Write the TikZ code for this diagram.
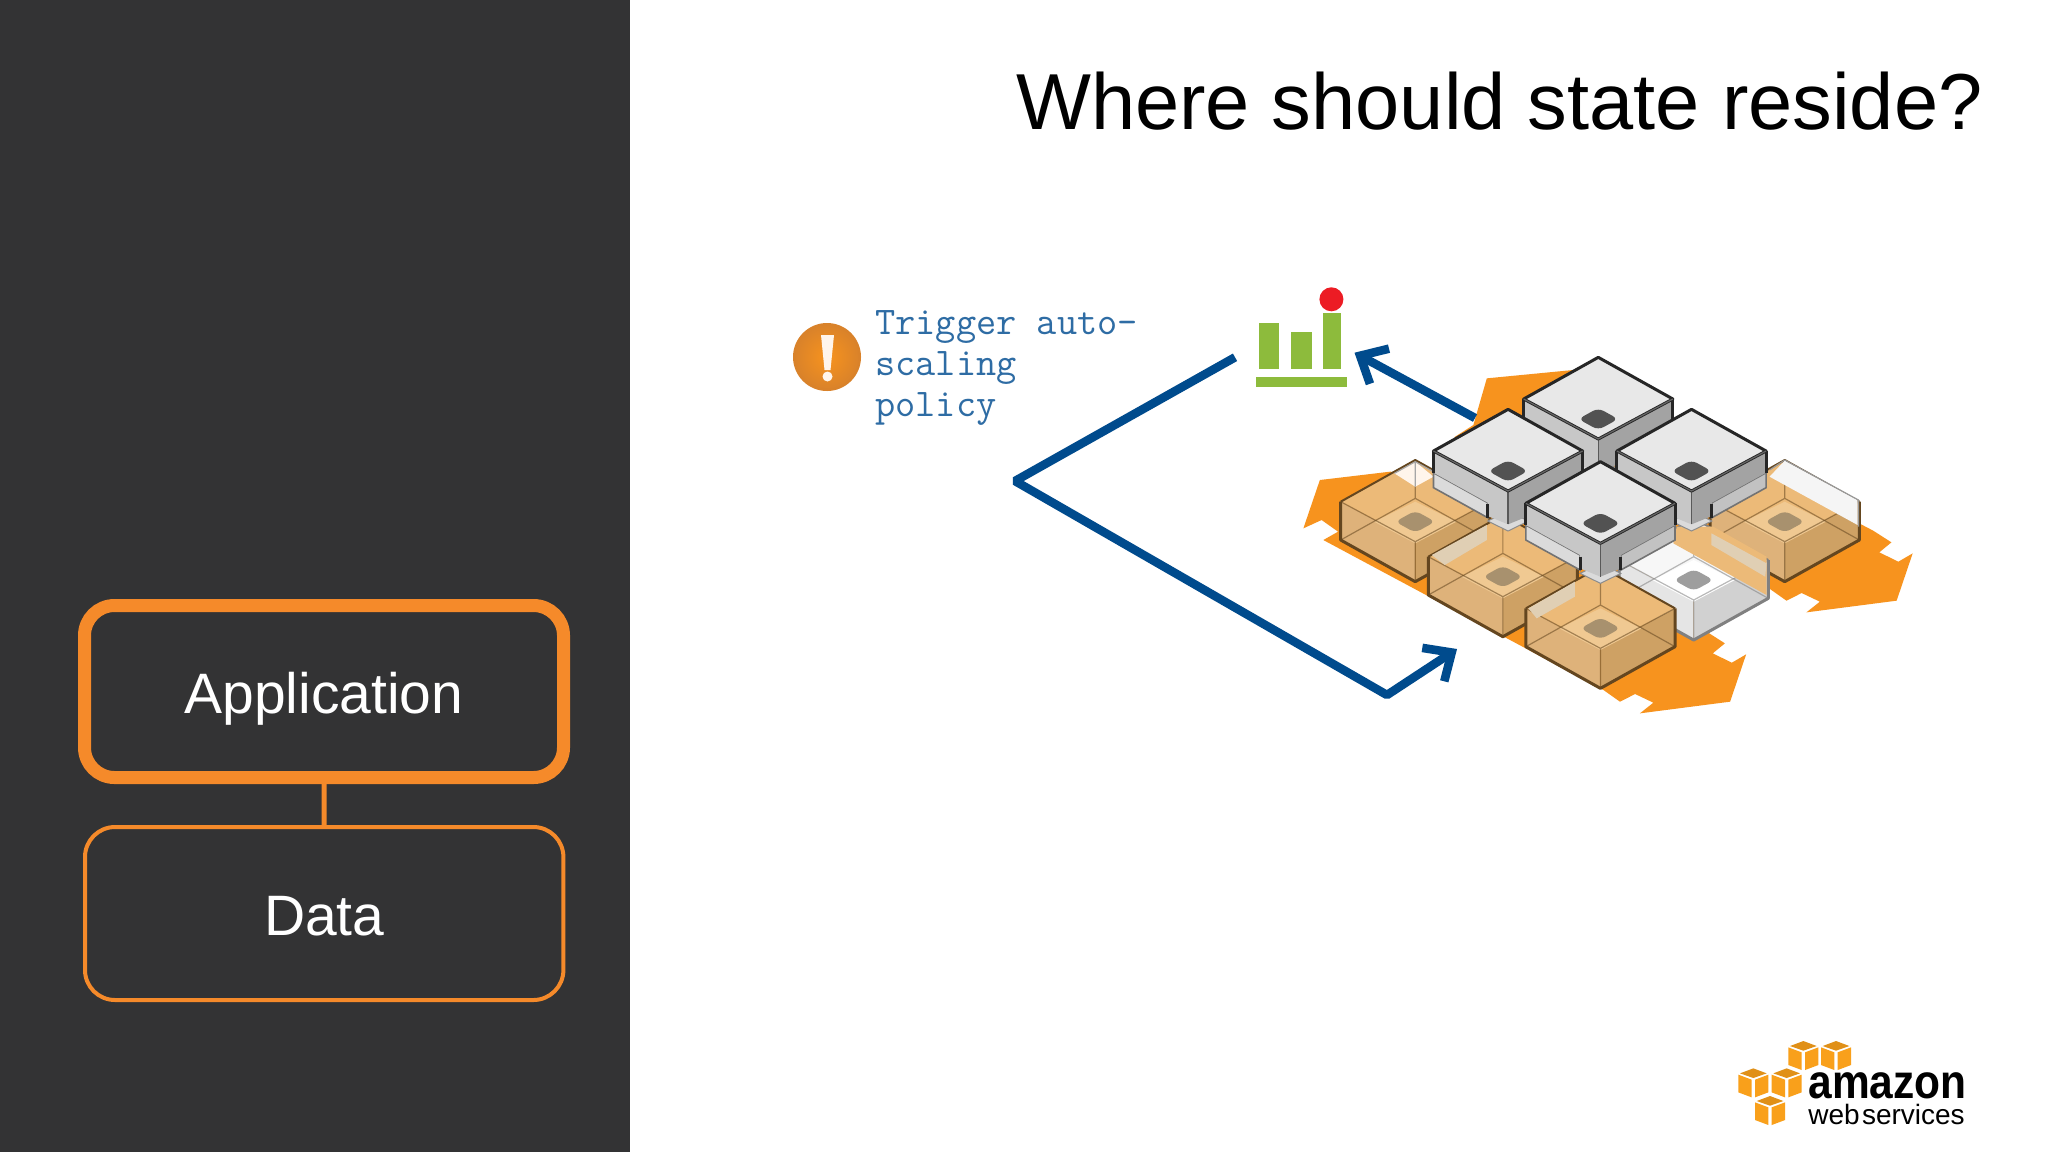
\documentclass[tikz,border=0pt]{standalone}
\usepackage{fontspec}
\usepackage{graphicx}
\setmainfont{Liberation Sans}
\usetikzlibrary{arrows.meta}
\definecolor{panel}{HTML}{333334}
\definecolor{awsorange}{HTML}{F58A2A}
\definecolor{blueline}{HTML}{004B8D}
\definecolor{bluetext}{HTML}{2E6CA4}
\definecolor{chartgreen}{HTML}{8DBB3C}
\definecolor{flow}{HTML}{F7931E}
\definecolor{logoor}{HTML}{F9A01B}
\definecolor{alertout}{HTML}{D9822A}
\definecolor{dotred}{HTML}{EC1C24}
\definecolor{gtop}{HTML}{ECBA78}
\definecolor{gleft}{HTML}{DEB27A}
\definecolor{gright}{HTML}{CEA164}
\definecolor{gedge}{HTML}{64461F}
\definecolor{gring}{HTML}{F0C992}
\definecolor{gcore}{HTML}{A8916E}
\definecolor{gband}{HTML}{E0CFB4}
\tikzset{
  layerbox/.style={draw=awsorange,rounded corners=15pt,fill=panel,text=white,inner sep=0pt,
     font=\fontsize{28.5}{34}\selectfont,text height=21.5pt,text depth=0pt},
  blueconn/.style={draw=blueline,line width=4.3pt,line join=bevel},
  bluearrow/.style={blueconn,-{Straight Barb[length=11pt,width=20pt]}},
  edgeT/.style={draw=#1,line width=1.5pt,line join=round},
  thinE/.style={draw=#1,line width=.6pt,line join=round},
}
% x y : apex of the top face
\newcommand{\solidblock}[2]{%
\begin{scope}[shift={(#1,#2)}]
  \fill[fill=black!14,draw=black!45,line width=.5pt] (-47,335)--(-15,315)--(15,315)--(47,335)--(0,365)--cycle;
  \filldraw[fill=black!14,draw=black!55,line width=.8pt] (-172,190)--(-172,235)--(-47,325)--(-47,280)--cycle;
  \filldraw[fill=black!24,draw=black!55,line width=.8pt] (172,190)--(172,235)--(47,325)--(47,280)--cycle;
  \fill[fill=black!22] (-172,125)--(0,245)--(0,345)--(-47,320)--(-47,280)--(-172,190)--cycle;
  \fill[fill=black!36] (172,125)--(0,245)--(0,345)--(47,320)--(47,280)--(172,190)--cycle;
  \draw[thinE=black!65] (0,245)--(0,345);
  \draw[edgeT=black!85] (-172,125)--(-172,190) (172,125)--(172,190) (-47,285)--(-47,325) (47,285)--(47,325);
  \filldraw[fill=black!9,edgeT=black!85] (0,0)--(172,125)--(0,245)--(-172,125)--cycle;
  \draw[thinE=black!60] (-172,125)--(0,245)--(172,125);
  \fill[fill=black!68,rounded corners=3pt] (0,152)--(46,185)--(0,218)--(-46,185)--cycle;
\end{scope}}
% x y top left right edge ring core
\newcommand{\glassblock}[8]{%
\begin{scope}[shift={(#1,#2)}]
  \fill[fill=#3] (0,0)--(172,125)--(0,245)--(-172,125)--cycle;
  \fill[fill=#4] (-172,125)--(0,245)--(0,365)--(-172,240)--cycle;
  \fill[fill=#5] (172,125)--(0,245)--(0,365)--(172,240)--cycle;
  \fill[fill=#7] (0,125)--(95,185)--(0,250)--(-95,185)--cycle;
  \draw[thinE=#6,opacity=.55] (-172,240)--(0,115)--(172,240) (0,0)--(0,115);
  \draw[thinE=#6,opacity=.55] (-172,125)--(0,245)--(172,125) (0,245)--(0,365);
  \fill[fill=#8,rounded corners=3pt] (0,152)--(46,185)--(0,218)--(-46,185)--cycle;
  \draw[edgeT=#6] (-172,125)--(-172,240)--(0,365)--(172,240)--(172,125);
  \draw[thinE=#6,line width=1pt] (-172,125)--(0,0)--(172,125);
\end{scope}}
\newcommand{\logocube}[2]{%
\begin{scope}[shift={(#1,#2)}]
  \fill[fill=logoor!90!black] (0,0)--(40,15)--(0,29)--(-40,15)--cycle;
  \fill[fill=logoor] (-45,19)--(-5,34)--(-5,87)--(-45,72)--cycle;
  \fill[fill=logoor] (45,19)--(5,34)--(5,87)--(45,72)--cycle;
\end{scope}}
\begin{document}
\begin{tikzpicture}[x=0.5pt,y=-0.5pt]
\useasboundingbox (0,0) rectangle (2048,1152);
\fill[white] (0,0) rectangle (2048,1152);
\fill[panel] (0,0) rectangle (630,1152);

% layered boxes
\node[layerbox,line width=6.5pt,minimum width=239.5pt,minimum height=86pt] (app) at (324,691.5) {Application};
\node[layerbox,line width=2pt,minimum width=239.2pt,minimum height=86.5pt] (data) at (324.2,913.5) {Data};
\draw[awsorange,line width=2.5pt] (app.south) -- (data.north);

% title
\node[anchor=base east,inner sep=0pt,font=\fontsize{39.7}{48}\selectfont] (title) at (1983,129) {Where should state reside?};

% alert icon
\node[circle,minimum size=33pt,inner sep=0pt,inner color=flow,outer color=alertout,draw=alertout,line width=1pt] (alert) at (827,357) {};
\fill[fill=white!92!orange] (821,335)--(834,335)--(830.5,370)--(824.5,370)--cycle;
\fill[fill=white!92!orange] (827.5,376.5) circle (5);

% label
\node[anchor=base west,inner sep=0pt,text=bluetext,font=\ttfamily\fontsize{19.6}{20.5}\selectfont,align=left] (label) at (875,416) {Trigger auto-\\scaling\\policy};

% chart icon
\fill[chartgreen] (1259,322.7) rectangle (1279,369.3);
\fill[chartgreen] (1291,331.7) rectangle (1311.5,369.3);
\fill[chartgreen] (1323,313.3) rectangle (1341,369.3);
\fill[chartgreen] (1256,376.7) rectangle (1347,387.3);
\node[circle,fill=dotred,minimum size=12pt,inner sep=0pt] (dot) at (1331.4,299.3) {};

% orange flows and cubes, traced in a local grid
\begin{scope}[shift={(1260,270)},x=0.21683pt,y=-0.16667pt]
  \fill[flow] (492,465)--(523,325)--(722,300)--(1000,500)--(1414,782)--(1456,817)--(1428,847)--(1472,875)--(1505,850)--(1468,992)--(1260,1027)--(1291,995)--(1249,969)--(1214,992)--(1176,957)--(1030,1085)--(1072,1120)--(1044,1150)--(1088,1178)--(1121,1153)--(1084,1295)--(876,1330)--(907,1298)--(865,1272)--(830,1295)--(792,1260)--(146,810)--(180,785)--(142,750)--(100,775)--(138,630)--(300,605)--(340,610)--(400,600)--(450,500)--cycle;
  % empty slots
  \glassblock{358}{570}{gtop}{gleft}{gright}{gedge}{gring}{gcore}
  \fill[white!92!orange] (358,575)--(310,610)--(358,650)--(400,620)--cycle;
  \draw[thinE=gray!70] (310,610)--(358,575)--(400,605) (358,575)--(358,650);
  \glassblock{1210}{570}{gtop}{gleft}{gright}{gedge}{gring}{gcore}
  \fill[black!4] (1175,620)--(1210,572)--(1378,690)--(1378,765)--cycle;
  \draw[thinE=gray!80] (1175,600)--(1210,570)--(1380,690)--(1380,770);
  \glassblock{1000}{745}{black!3}{black!10}{black!18}{black!50}{white}{black!38}
  \fill[fill=gtop] (961,770)--(1045,770)--(1168,860)--(1168,975)--(953,820)--cycle;
  \fill[fill=gband] (1041,790)--(1168,880)--(1165,920)--(1041,825)--cycle;
  \glassblock{560}{735}{gtop}{gleft}{gright}{gedge}{gring}{gcore}
  \fill[fill=gband] (396,855)--(523,765)--(523,810)--(426,885)--cycle;
  \glassblock{785}{890}{gtop}{gleft}{gright}{gedge}{gring}{gcore}
  \fill[fill=gband] (619,1015)--(726,935)--(726,980)--(638,1045)--cycle;
  \solidblock{780}{262}
  \solidblock{572}{418}
  \solidblock{995}{418}
  \solidblock{785}{575}
\end{scope}

% connectors
\coordinate (bendA) at (1015,481);
\coordinate (bendB) at (1387,695);
\coordinate (fromChart) at (1235,357.3);
\coordinate (toFleet) at (1457,649);
\coordinate (fleetTop) at (1475,418);
\coordinate (chartSide) at (1354.5,352.7);
\draw[bluearrow] (fromChart) -- (bendA) -- (bendB) -- (toFleet);
\draw[bluearrow] (fleetTop) -- (chartSide);

% logo
\begin{scope}[shift={(1720,1020)},x=0.16667pt,y=-0.16667pt]
  \logocube{250}{63}
  \logocube{348}{63}
  \logocube{100}{145}
  \logocube{200}{145}
  \logocube{150}{228}
\end{scope}
\node[anchor=base west,inner sep=0pt] (awslogo) at (1808,1124) {\vbox{\baselineskip=13pt\lineskiplimit=-100pt
  \hbox{\bfseries\fontsize{24}{28}\selectfont\scalebox{0.885}[1]{amazon}}
  \hbox{\fontsize{14}{16}\selectfont web\hspace{.08em}services}}};
\end{tikzpicture}
\end{document}
